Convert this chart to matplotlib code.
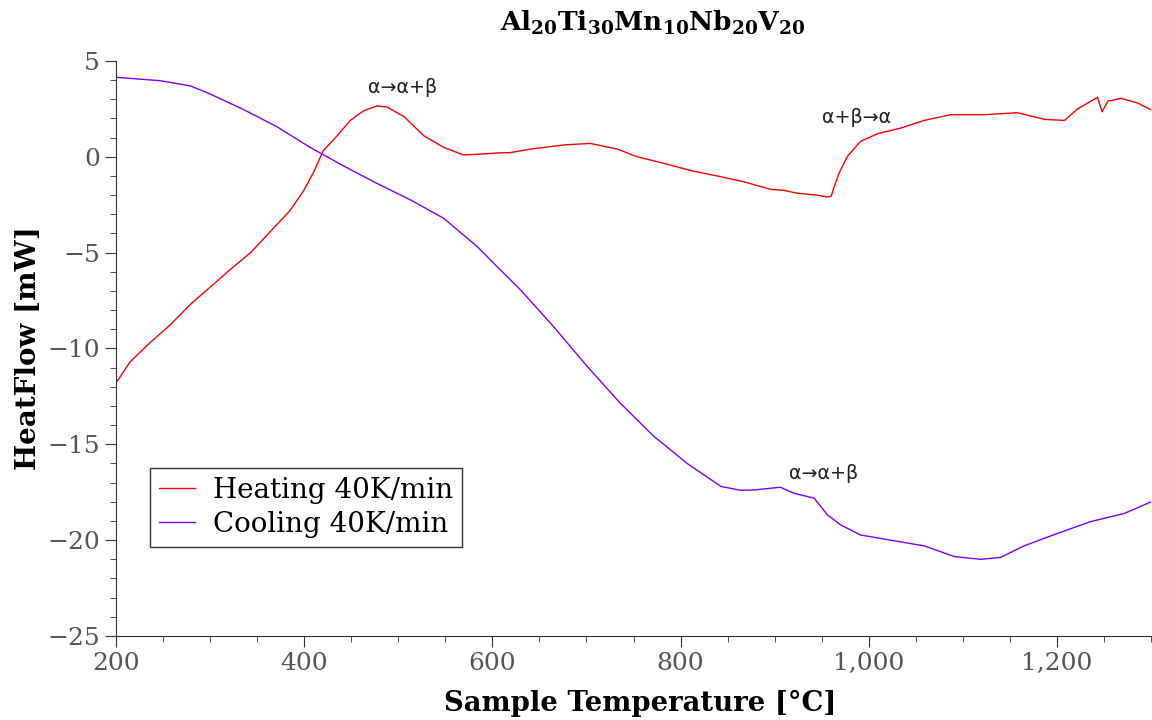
import matplotlib
matplotlib.use("Agg")
import matplotlib.pyplot as plt
from matplotlib.ticker import MultipleLocator, FuncFormatter

# heating curve
heat_T = [200, 215, 236, 257, 279, 300, 321, 343, 364, 385, 399, 410, 420, 435, 449, 463,
          477, 488, 506, 527, 548, 569, 591, 605, 619, 640, 676, 704, 733, 754, 782, 811,
          839, 867, 896, 910, 924, 945, 956, 960, 963, 968, 977, 991, 1009, 1034, 1059,
          1087, 1123, 1158, 1187, 1208, 1222, 1243, 1248, 1254, 1268, 1286, 1300]
heat_Q = [-11.8, -10.7, -9.7, -8.8, -7.7, -6.8, -5.9, -5.0, -3.9, -2.8, -1.8, -0.8, 0.3, 1.1,
          1.9, 2.4, 2.65, 2.6, 2.1, 1.1, 0.5, 0.1, 0.15, 0.2, 0.22, 0.4, 0.62, 0.7, 0.4,
          0.0, -0.34, -0.72, -1.0, -1.3, -1.7, -1.75, -1.9, -2.0, -2.1, -2.05, -1.6, -0.9,
          0.0, 0.8, 1.2, 1.5, 1.9, 2.2, 2.2, 2.3, 1.95, 1.9, 2.5, 3.1, 2.35, 2.9, 3.05,
          2.8, 2.45]

# cooling curve
cool_T = [200, 247, 279, 300, 335, 371, 406, 442, 477, 513, 548, 584, 605, 630, 665, 701,
          736, 772, 807, 843, 864, 878, 906, 920, 942, 956, 970, 991, 1023, 1059, 1091,
          1119, 1140, 1165, 1201, 1236, 1272, 1300]
cool_Q = [4.15, 3.97, 3.7, 3.28, 2.48, 1.57, 0.5, -0.48, -1.38, -2.25, -3.2, -4.69, -5.73,
          -6.95, -8.86, -10.95, -12.86, -14.6, -16.0, -17.2, -17.4, -17.38, -17.24, -17.55,
          -17.81, -18.68, -19.2, -19.73, -20.0, -20.3, -20.86, -21.0, -20.9, -20.3, -19.64,
          -19.03, -18.6, -18.0]

labels = ["Heating 40K/min", "Cooling 40K/min"]
notes = ["α→α+β", "α+β→α", "α→α+β"]
note_T = [505, 987, 952]
note_Q = [3.6, 2.05, -16.5]

plt.rcParams["font.family"] = "DejaVu Serif"
plt.rcParams["mathtext.fontset"] = "dejavuserif"

fig = plt.figure(figsize=(11.52, 7.2), dpi=100)
ax = fig.add_axes([0.1007, 0.1167, 0.8985, 0.7986])

ax.plot(heat_T, heat_Q, color="#ff0000", lw=1.0, label=labels[0])
ax.plot(cool_T, cool_Q, color="#8000ff", lw=1.0, label=labels[1])

for s, t, q in zip(notes, note_T, note_Q):
    ax.text(t, q, s, ha="center", va="center", fontsize=13.8, family="DejaVu Sans", color="#222222")

ax.set_xlim(200, 1300)
ax.set_ylim(-25, 5)
ax.xaxis.set_major_locator(MultipleLocator(200))
ax.xaxis.set_minor_locator(MultipleLocator(50))
ax.yaxis.set_major_locator(MultipleLocator(5))
ax.yaxis.set_minor_locator(MultipleLocator(1))
ax.xaxis.set_major_formatter(FuncFormatter(lambda v, p: f"{v:,.0f}"))

for side in ["top", "right"]:
    ax.spines[side].set_visible(False)
for side in ["left", "bottom"]:
    ax.spines[side].set_color("#333333")
ax.tick_params(which="major", length=8, color="#333333", labelsize=18, labelcolor="#5a534e")
ax.tick_params(which="minor", length=4, color="#333333")

ax.set_xlabel("Sample Temperature [°C]", fontsize=19.8, fontweight="bold")
ax.xaxis.set_label_coords(0.506, -0.094)
ax.set_ylabel("HeatFlow [mW]", fontsize=20, fontweight="bold", labelpad=4)

fig.text(0.567, 0.968, r"$\mathbf{Al_{20}Ti_{30}Mn_{10}Nb_{20}V_{20}}$",
         ha="center", va="center", fontsize=19)

leg = ax.legend(loc="upper left", bbox_to_anchor=(0.033, 0.292), fontsize=20,
                frameon=True, fancybox=False, edgecolor="#333333", framealpha=1,
                borderpad=0.32, handlelength=1.3, handletextpad=0.65, labelspacing=0.25,
                borderaxespad=0)
leg.get_frame().set_linewidth(1.0)

fig.savefig("out.png", dpi=100)
